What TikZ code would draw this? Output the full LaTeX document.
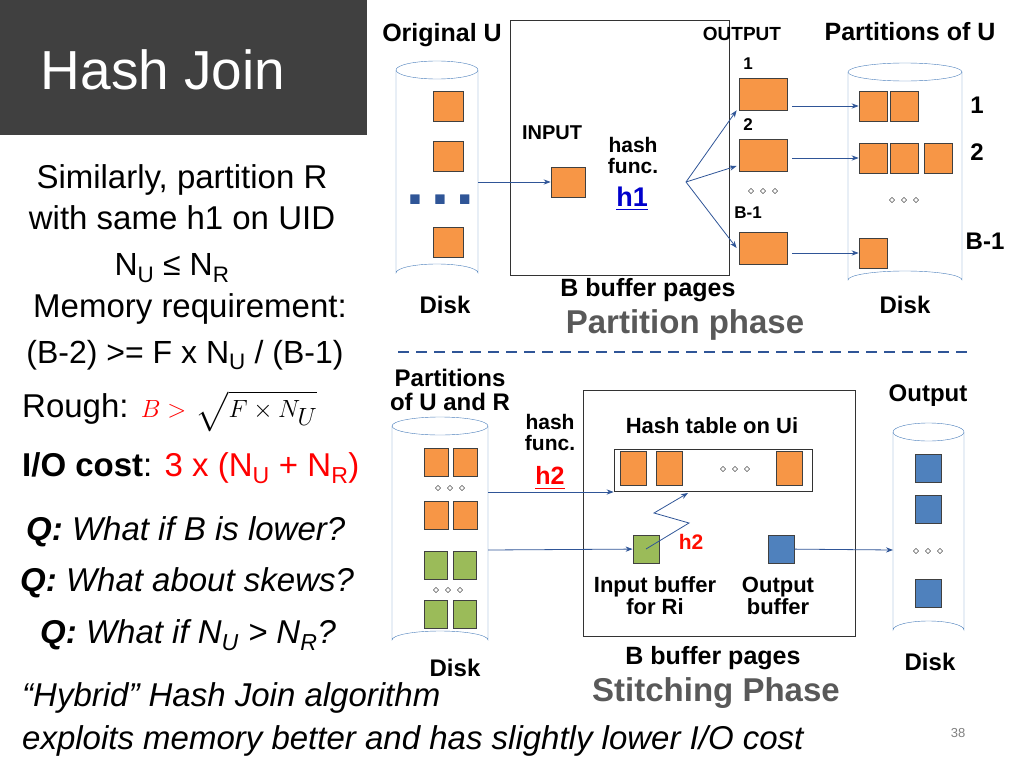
\documentclass[tikz,border=0pt]{standalone}
\usepackage{amssymb}
\usepackage{fontspec}
\setmainfont{Liberation Sans}
\usetikzlibrary{arrows.meta,positioning}
\definecolor{org}{HTML}{F79646}
\definecolor{grn}{HTML}{9BBB59}
\definecolor{blu}{HTML}{4F81BD}
\definecolor{arr}{HTML}{2F5597}
\definecolor{cyl}{HTML}{4A7EBB}
\definecolor{ttl}{HTML}{404040}
\newcommand{\fs}[1]{\fontsize{#1}{#1}\selectfont}
% cylinder: left, top, right, bottom
\newcommand{\drum}[4]{%
  \draw[cyl, thin, fill=white] (#1,#2) -- (#1,#4) arc[start angle=180, end angle=360, x radius={(#3-#1)/2}, y radius=9] -- (#3,#2);
  \draw[cyl, thin] ({(#1+#3)/2},#2) ellipse[x radius={(#3-#1)/2}, y radius=9];
}
\tikzset{
  page/.style={draw=black!75, thick, minimum width=30, minimum height=30, inner sep=0},
  opage/.style={page, fill=org},
  gpage/.style={page, fill=grn, minimum width=23, minimum height=28},
  bpage/.style={page, fill=blu, minimum width=26, minimum height=28},
  lab/.style={font=\bfseries\fs{24}, inner sep=0, align=center},
  txt/.style={font=\fs{33}, inner sep=0, anchor=west},
  flow/.style={arr, thick, -{Stealth[length=7pt]}},
  dots/.style={font=\fs{12}, inner sep=0}
}
\begin{document}
\begin{tikzpicture}[x=1pt, y=-1pt]
  \useasboundingbox (0,0) rectangle (1024,768);

  % title
  \fill[ttl] (0,0) rectangle (367,135);
  \node[white, font=\fs{55}, inner sep=0] (title) at (163,70) {Hash Join};

  % left text
  \node[font=\fs{33}, inner sep=0] (t1) at (182,180) {Similarly, partition R};
  \node[font=\fs{33}, inner sep=0] (t2) at (182,218) {with same h1 on UID};
  \node[font=\fs{32}, inner sep=0] (t3) at (172,268) {N\textsubscript{U} ≤ N\textsubscript{R}};
  \node[font=\fs{33}, inner sep=0] (t4) at (190,309) {Memory requirement:};
  \node[font=\fs{32}, inner sep=0] (t5) at (185,355) {(B-2) >= F x N\textsubscript{U} / (B-1)};
  \node[txt] (t6) at (22,411) {Rough: \textcolor{red}{$B >$} $\sqrt{F \times N_U}$};
  \node[txt] (t7) at (22,468) {\textbf{I/O cost}: \textcolor{red}{3 x (N\textsubscript{U} + N\textsubscript{R})}};
  \node[txt] (q1) at (26,532) {\textbf{\textit{Q:}} \textit{What if B is lower?}};
  \node[txt] (q2) at (20,583) {\textbf{\textit{Q:}} \textit{What about skews?}};
  \node[txt] (q3) at (40,635) {\textbf{\textit{Q:}} \textit{What if N\textsubscript{U} > N\textsubscript{R}?}};
  \node[txt, font=\itshape\fs{33}] (h1) at (22,698) {“Hybrid” Hash Join algorithm};
  \node[txt, font=\itshape\fs{33}] (h2) at (22,741) {exploits memory better and has slightly lower I/O cost};
  \node[gray, font=\fs{13}, inner sep=0] (pg) at (958,733) {38};

  % Partition phase
  \drum{396}{70}{478}{273}
  \node[opage] (u1) at (448,106) {};
  \node[opage] (u2) at (448,156) {};
  \node[opage] (u3) at (448,242) {};
  \node[arr, font=\fs{14}, inner sep=0] (ud) at (440,200) {$\blacksquare$\quad$\blacksquare$\quad$\blacksquare$};
  \coordinate (ue) at (478,182);
  \draw[black!80, thick] (510,20) rectangle (729,275);
  \node[opage, minimum width=34] (in) at (568,182) {};
  \node[lab, font=\bfseries\fs{20}] (inl) at (552,133) {INPUT};
  \node[lab, font=\bfseries\fs{21}] (hf1) at (633,155) {hash\\func.};
  \node[lab, font=\bfseries\fs{27}, blue!80!black] (hh1) at (632,199) {\underline{h1}};
  \coordinate (fan) at (686,182);
  \node[opage, minimum width=48, minimum height=32] (o1) at (763,94) {};
  \node[opage, minimum width=48, minimum height=32] (o2) at (763,155) {};
  \node[opage, minimum width=48, minimum height=32] (o3) at (763,248) {};
  \node[lab, font=\bfseries\fs{19}] (ol) at (742,34) {OUTPUT};
  \node[lab, font=\bfseries\fs{17}] (n1) at (748,64) {1};
  \node[lab, font=\bfseries\fs{17}] (n2) at (748,125) {2};
  \node[lab, font=\bfseries\fs{17}] (n3) at (748,213) {B-1};
  \node[dots] (od) at (763,192) {$\diamond$\,\,\,$\diamond$\,\,\,$\diamond$};
  \draw[flow] (ue) -- (in);
  \draw[flow] (fan) -- ([xshift=-2]o1.south west);
  \draw[flow] (fan) -- ([xshift=-2]o2.west |- 0,166);
  \draw[flow] (fan) -- ([xshift=-2]o3.west);

  \drum{848}{72}{962}{280}
  \node[opage, minimum width=28] (p1) at (873,106) {};
  \node[opage, minimum width=28] (p2) at (904,106) {};
  \node[opage, minimum width=28] (p3) at (873,158) {};
  \node[opage, minimum width=28] (p4) at (904,158) {};
  \node[opage, minimum width=28] (p5) at (938,158) {};
  \node[opage, minimum width=28] (p6) at (873,253) {};
  \node[dots] (pd) at (904,201) {$\diamond$\,\,\,$\diamond$\,\,\,$\diamond$};
  \draw[flow] ([xshift=5]o1.east |- p1) -- (p1);
  \draw[flow] ([xshift=5]o2.east |- p3) -- (p3);
  \draw[flow] ([xshift=5]o3.east |- p6) -- (p6);
  \node[lab] (m1) at (977,105) {1};
  \node[lab] (m2) at (977,152) {2};
  \node[lab] (m3) at (985,241) {B-1};
  \node[lab, font=\bfseries\fs{25}] (ou) at (442,35) {Original U};
  \node[lab, font=\bfseries\fs{25}] (pu) at (910,32) {Partitions of U};
  \node[lab] (dk1) at (445,305) {Disk};
  \node[lab] (dk2) at (905,305) {Disk};
  \node[lab, font=\bfseries\fs{25}] (bb1) at (648,290) {B buffer pages};
  \node[lab, font=\bfseries\fs{33}, black!65] (pp) at (685,325) {Partition phase};
  \draw[arr, very thick, dash pattern=on 11pt off 7pt] (398,352) -- (968,352);

  % Stitching phase
  \drum{392}{426}{488}{640}
  \foreach \y in {462,515} {
    \node[opage, minimum width=24, minimum height=28] at (436,\y) {};
    \node[opage, minimum width=24, minimum height=28] at (465,\y) {};
  }
  \foreach \y in {565,614} {
    \node[gpage] at (436,\y) {};
    \node[gpage] at (465,\y) {};
  }
  \node[dots] (sd1) at (450,489) {$\diamond$\,\,\,$\diamond$\,\,\,$\diamond$};
  \node[dots] (sd2) at (448,591) {$\diamond$\,\,\,$\diamond$\,\,\,$\diamond$};
  \coordinate (se1) at (488,492);
  \coordinate (se2) at (488,550);
  \node[lab] (pur) at (450,390) {Partitions\\of U and R};
  \node[lab, font=\bfseries\fs{21}] (hf2) at (550,432) {hash\\func.};
  \node[lab, font=\bfseries\fs{25}, red] (hh2) at (550,478) {\underline{h2}};
  \draw[black!80, thick] (583,390) rectangle (855,636);
  \node[lab, font=\bfseries\fs{22}] (htl) at (712,426) {Hash table on Ui};
  \node[draw=black!80, thick, minimum width=198, minimum height=42, inner sep=0] (ht) at (713,470) {};
  \node[opage, minimum width=26, minimum height=34] (ht1) at (633,468) {};
  \node[opage, minimum width=26, minimum height=34] (ht2) at (669,468) {};
  \node[opage, minimum width=26, minimum height=34] (ht3) at (789,468) {};
  \node[dots] (hd) at (735,470) {$\diamond$\,\,\,$\diamond$\,\,\,$\diamond$};
  \node[gpage, minimum width=26] (ib) at (646,549) {};
  \node[bpage] (ob) at (781,549) {};
  \draw[flow] (se1) -- (ht.west |- se1);
  \draw[flow] (se2) -- (ib);
  \draw[flow] (ib.center) -- (689,523) -- (654,513) -- (688,493);
  \node[lab, font=\bfseries\fs{21}, red!90!orange] (hl2) at (691,542) {h2};
  \node[lab, font=\bfseries\fs{22}] (ibl) at (655,596) {Input buffer\\for Ri};
  \node[lab, font=\bfseries\fs{22}] (obl) at (778,596) {Output\\buffer};

  \drum{893}{432}{964}{630}
  \node[bpage] (r1) at (928,468) {};
  \node[bpage] (r2) at (928,509) {};
  \node[bpage] (r3) at (928,593) {};
  \node[dots] (rd) at (928,552) {$\diamond$\,\,\,$\diamond$\,\,\,$\diamond$};
  \coordinate (re) at (893,550);
  \draw[flow] (ob) -- (re);
  \node[lab] (outl) at (928,396) {Output};
  \node[lab] (dk3) at (455,668) {Disk};
  \node[lab] (dk4) at (930,662) {Disk};
  \node[lab, font=\bfseries\fs{25}] (bb2) at (713,658) {B buffer pages};
  \node[lab, font=\bfseries\fs{33}, black!65] (sp) at (716,693) {Stitching Phase};
\end{tikzpicture}
\end{document}
